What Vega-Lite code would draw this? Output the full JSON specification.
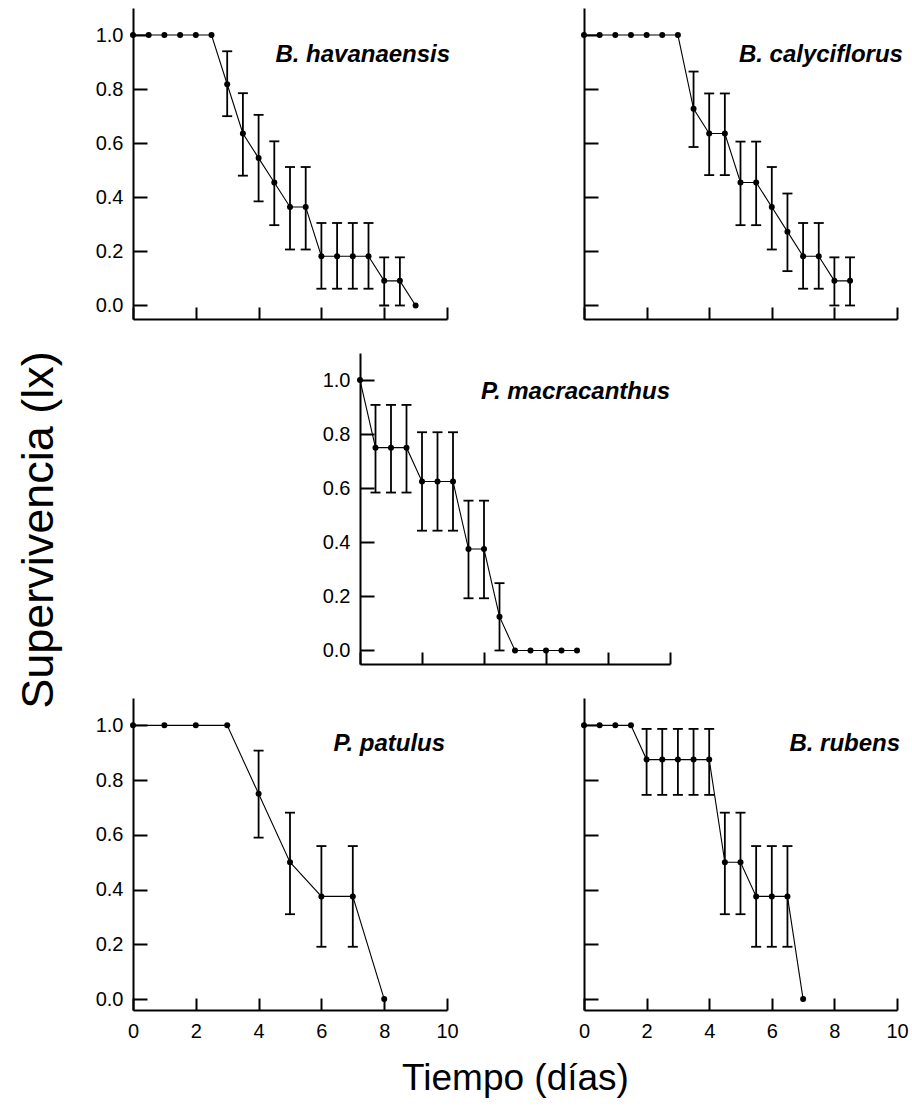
{
  "$schema": "https://vega.github.io/schema/vega-lite/v6.json",
  "padding": {"left": 17, "top": 8, "right": 2, "bottom": 2},
  "background": "white",
  "config": {
    "view": {"stroke": null},
    "font": "Liberation Sans",
    "axis": {"domainColor": "black", "domainWidth": 2, "tickColor": "black", "tickWidth": 2, "labelColor": "black", "labelFont": "Liberation Sans", "labelFontSize": 20, "grid": false, "labelFlush": false, "titleColor": "black", "titleFont": "Liberation Sans", "titleFontWeight": "normal", "titleFontSize": 37},
    "axisX": {"tickSize": -12, "labelPadding": 23},
    "axisY": {"tickSize": -14, "labelPadding": 24}
  },
  "title": {"text": "Supervivencia (lx)", "orient": "left", "anchor": "middle", "fontSize": 45, "fontWeight": "normal", "font": "Liberation Sans", "color": "black", "offset": 33, "dx": 22},
  "datasets": {
    "surv": [
      {"sp": "B. havanaensis", "t": 0, "lx": 1, "lo": null, "hi": null},
      {"sp": "B. havanaensis", "t": 0.5, "lx": 1, "lo": null, "hi": null},
      {"sp": "B. havanaensis", "t": 1, "lx": 1, "lo": null, "hi": null},
      {"sp": "B. havanaensis", "t": 1.5, "lx": 1, "lo": null, "hi": null},
      {"sp": "B. havanaensis", "t": 2, "lx": 1, "lo": null, "hi": null},
      {"sp": "B. havanaensis", "t": 2.5, "lx": 1, "lo": null, "hi": null},
      {"sp": "B. havanaensis", "t": 3, "lx": 0.818, "lo": 0.70, "hi": 0.94},
      {"sp": "B. havanaensis", "t": 3.5, "lx": 0.636, "lo": 0.48, "hi": 0.785},
      {"sp": "B. havanaensis", "t": 4, "lx": 0.545, "lo": 0.385, "hi": 0.705},
      {"sp": "B. havanaensis", "t": 4.5, "lx": 0.455, "lo": 0.297, "hi": 0.607},
      {"sp": "B. havanaensis", "t": 5, "lx": 0.364, "lo": 0.207, "hi": 0.512},
      {"sp": "B. havanaensis", "t": 5.5, "lx": 0.364, "lo": 0.207, "hi": 0.512},
      {"sp": "B. havanaensis", "t": 6, "lx": 0.182, "lo": 0.062, "hi": 0.305},
      {"sp": "B. havanaensis", "t": 6.5, "lx": 0.182, "lo": 0.062, "hi": 0.305},
      {"sp": "B. havanaensis", "t": 7, "lx": 0.182, "lo": 0.062, "hi": 0.305},
      {"sp": "B. havanaensis", "t": 7.5, "lx": 0.182, "lo": 0.062, "hi": 0.305},
      {"sp": "B. havanaensis", "t": 8, "lx": 0.091, "lo": 0.0, "hi": 0.178},
      {"sp": "B. havanaensis", "t": 8.5, "lx": 0.091, "lo": 0.0, "hi": 0.178},
      {"sp": "B. havanaensis", "t": 9, "lx": 0, "lo": null, "hi": null},

      {"sp": "B. calyciflorus", "t": 0, "lx": 1, "lo": null, "hi": null},
      {"sp": "B. calyciflorus", "t": 0.5, "lx": 1, "lo": null, "hi": null},
      {"sp": "B. calyciflorus", "t": 1, "lx": 1, "lo": null, "hi": null},
      {"sp": "B. calyciflorus", "t": 1.5, "lx": 1, "lo": null, "hi": null},
      {"sp": "B. calyciflorus", "t": 2, "lx": 1, "lo": null, "hi": null},
      {"sp": "B. calyciflorus", "t": 2.5, "lx": 1, "lo": null, "hi": null},
      {"sp": "B. calyciflorus", "t": 3, "lx": 1, "lo": null, "hi": null},
      {"sp": "B. calyciflorus", "t": 3.5, "lx": 0.727, "lo": 0.586, "hi": 0.865},
      {"sp": "B. calyciflorus", "t": 4, "lx": 0.636, "lo": 0.482, "hi": 0.784},
      {"sp": "B. calyciflorus", "t": 4.5, "lx": 0.636, "lo": 0.482, "hi": 0.784},
      {"sp": "B. calyciflorus", "t": 5, "lx": 0.455, "lo": 0.297, "hi": 0.606},
      {"sp": "B. calyciflorus", "t": 5.5, "lx": 0.455, "lo": 0.297, "hi": 0.606},
      {"sp": "B. calyciflorus", "t": 6, "lx": 0.364, "lo": 0.207, "hi": 0.512},
      {"sp": "B. calyciflorus", "t": 6.5, "lx": 0.273, "lo": 0.127, "hi": 0.414},
      {"sp": "B. calyciflorus", "t": 7, "lx": 0.182, "lo": 0.062, "hi": 0.305},
      {"sp": "B. calyciflorus", "t": 7.5, "lx": 0.182, "lo": 0.062, "hi": 0.305},
      {"sp": "B. calyciflorus", "t": 8, "lx": 0.091, "lo": 0.0, "hi": 0.178},
      {"sp": "B. calyciflorus", "t": 8.5, "lx": 0.091, "lo": 0.0, "hi": 0.178},

      {"sp": "P. macracanthus", "t": 0, "lx": 1, "lo": null, "hi": null},
      {"sp": "P. macracanthus", "t": 0.5, "lx": 0.75, "lo": 0.584, "hi": 0.908},
      {"sp": "P. macracanthus", "t": 1, "lx": 0.75, "lo": 0.584, "hi": 0.908},
      {"sp": "P. macracanthus", "t": 1.5, "lx": 0.75, "lo": 0.584, "hi": 0.908},
      {"sp": "P. macracanthus", "t": 2, "lx": 0.625, "lo": 0.443, "hi": 0.807},
      {"sp": "P. macracanthus", "t": 2.5, "lx": 0.625, "lo": 0.443, "hi": 0.807},
      {"sp": "P. macracanthus", "t": 3, "lx": 0.625, "lo": 0.443, "hi": 0.807},
      {"sp": "P. macracanthus", "t": 3.5, "lx": 0.375, "lo": 0.193, "hi": 0.554},
      {"sp": "P. macracanthus", "t": 4, "lx": 0.375, "lo": 0.193, "hi": 0.554},
      {"sp": "P. macracanthus", "t": 4.5, "lx": 0.125, "lo": 0.0, "hi": 0.249},
      {"sp": "P. macracanthus", "t": 5, "lx": 0, "lo": null, "hi": null},
      {"sp": "P. macracanthus", "t": 5.5, "lx": 0, "lo": null, "hi": null},
      {"sp": "P. macracanthus", "t": 6, "lx": 0, "lo": null, "hi": null},
      {"sp": "P. macracanthus", "t": 6.5, "lx": 0, "lo": null, "hi": null},
      {"sp": "P. macracanthus", "t": 7, "lx": 0, "lo": null, "hi": null},

      {"sp": "P. patulus", "t": 0, "lx": 1, "lo": null, "hi": null},
      {"sp": "P. patulus", "t": 1, "lx": 1, "lo": null, "hi": null},
      {"sp": "P. patulus", "t": 2, "lx": 1, "lo": null, "hi": null},
      {"sp": "P. patulus", "t": 3, "lx": 1, "lo": null, "hi": null},
      {"sp": "P. patulus", "t": 4, "lx": 0.75, "lo": 0.59, "hi": 0.908},
      {"sp": "P. patulus", "t": 5, "lx": 0.5, "lo": 0.31, "hi": 0.681},
      {"sp": "P. patulus", "t": 6, "lx": 0.375, "lo": 0.191, "hi": 0.559},
      {"sp": "P. patulus", "t": 7, "lx": 0.375, "lo": 0.191, "hi": 0.559},
      {"sp": "P. patulus", "t": 8, "lx": 0, "lo": null, "hi": null},

      {"sp": "B. rubens", "t": 0, "lx": 1, "lo": null, "hi": null},
      {"sp": "B. rubens", "t": 0.5, "lx": 1, "lo": null, "hi": null},
      {"sp": "B. rubens", "t": 1, "lx": 1, "lo": null, "hi": null},
      {"sp": "B. rubens", "t": 1.5, "lx": 1, "lo": null, "hi": null},
      {"sp": "B. rubens", "t": 2, "lx": 0.875, "lo": 0.746, "hi": 0.987},
      {"sp": "B. rubens", "t": 2.5, "lx": 0.875, "lo": 0.746, "hi": 0.987},
      {"sp": "B. rubens", "t": 3, "lx": 0.875, "lo": 0.746, "hi": 0.987},
      {"sp": "B. rubens", "t": 3.5, "lx": 0.875, "lo": 0.746, "hi": 0.987},
      {"sp": "B. rubens", "t": 4, "lx": 0.875, "lo": 0.746, "hi": 0.987},
      {"sp": "B. rubens", "t": 4.5, "lx": 0.5, "lo": 0.31, "hi": 0.681},
      {"sp": "B. rubens", "t": 5, "lx": 0.5, "lo": 0.31, "hi": 0.681},
      {"sp": "B. rubens", "t": 5.5, "lx": 0.375, "lo": 0.191, "hi": 0.559},
      {"sp": "B. rubens", "t": 6, "lx": 0.375, "lo": 0.191, "hi": 0.559},
      {"sp": "B. rubens", "t": 6.5, "lx": 0.375, "lo": 0.191, "hi": 0.559},
      {"sp": "B. rubens", "t": 7, "lx": 0, "lo": null, "hi": null}
    ],
    "labels": [
      {"sp": "B. havanaensis"},
      {"sp": "B. calyciflorus"},
      {"sp": "P. macracanthus"},
      {"sp": "P. patulus"},
      {"sp": "B. rubens"}
    ]
  },
  "spacing": 33,
  "vconcat": [
    {
      "bounds": "flush",
      "spacing": 137,
      "hconcat": [
        {
          "width": 314, "height": 311,
          "data": {"name": "surv"},
          "transform": [{"filter": "datum.sp === 'B. havanaensis'"}],
          "layer": [
            {"mark": {"type": "rule", "color": "black", "strokeWidth": 1.8},
             "encoding": {
               "x": {"field": "t", "type": "quantitative", "scale": {"domain": [0, 10], "nice": false, "zero": false}, "axis": {"values": [0, 2, 4, 6, 8, 10], "labels": false, "title": null}},
               "y": {"field": "lo", "type": "quantitative", "scale": {"domain": [-0.05, 1.1], "nice": false, "zero": false}, "axis": {"values": [0, 0.2, 0.4, 0.6, 0.8, 1], "format": ".1f", "title": null}},
               "y2": {"field": "hi"}}},
            {"mark": {"type": "tick", "orient": "horizontal", "size": 10, "thickness": 1.8, "color": "black", "opacity": 1},
             "encoding": {
               "x": {"field": "t", "type": "quantitative", "scale": {"domain": [0, 10], "nice": false, "zero": false}, "axis": {"values": [0, 2, 4, 6, 8, 10], "labels": false, "title": null}},
               "y": {"field": "lo", "type": "quantitative", "scale": {"domain": [-0.05, 1.1], "nice": false, "zero": false}, "axis": {"values": [0, 0.2, 0.4, 0.6, 0.8, 1], "format": ".1f", "title": null}}}},
            {"mark": {"type": "tick", "orient": "horizontal", "size": 10, "thickness": 1.8, "color": "black", "opacity": 1},
             "encoding": {
               "x": {"field": "t", "type": "quantitative", "scale": {"domain": [0, 10], "nice": false, "zero": false}, "axis": {"values": [0, 2, 4, 6, 8, 10], "labels": false, "title": null}},
               "y": {"field": "hi", "type": "quantitative", "scale": {"domain": [-0.05, 1.1], "nice": false, "zero": false}, "axis": {"values": [0, 0.2, 0.4, 0.6, 0.8, 1], "format": ".1f", "title": null}}}},
            {"mark": {"type": "line", "color": "black", "strokeWidth": 1.1},
             "encoding": {
               "x": {"field": "t", "type": "quantitative", "scale": {"domain": [0, 10], "nice": false, "zero": false}, "axis": {"values": [0, 2, 4, 6, 8, 10], "labels": false, "title": null}},
               "y": {"field": "lx", "type": "quantitative", "scale": {"domain": [-0.05, 1.1], "nice": false, "zero": false}, "axis": {"values": [0, 0.2, 0.4, 0.6, 0.8, 1], "format": ".1f", "title": null}}}},
            {"mark": {"type": "point", "filled": true, "color": "black", "size": 36, "opacity": 1},
             "encoding": {
               "x": {"field": "t", "type": "quantitative", "scale": {"domain": [0, 10], "nice": false, "zero": false}, "axis": {"values": [0, 2, 4, 6, 8, 10], "labels": false, "title": null}},
               "y": {"field": "lx", "type": "quantitative", "scale": {"domain": [-0.05, 1.1], "nice": false, "zero": false}, "axis": {"values": [0, 0.2, 0.4, 0.6, 0.8, 1], "format": ".1f", "title": null}}}},
            {"data": {"name": "labels"},
             "transform": [{"filter": "datum.sp === 'B. havanaensis'"}],
             "mark": {"type": "text", "align": "right", "baseline": "alphabetic", "font": "Liberation Sans", "fontStyle": "italic", "fontWeight": "bold", "fontSize": 24, "color": "black"},
             "encoding": {
               "x": {"datum": 10.1, "type": "quantitative", "scale": {"domain": [0, 10], "nice": false, "zero": false}},
               "y": {"datum": 0.9, "type": "quantitative", "scale": {"domain": [-0.05, 1.1], "nice": false, "zero": false}},
               "text": {"field": "sp"}}}
          ]
        },
        {
          "width": 313, "height": 311,
          "data": {"name": "surv"},
          "transform": [{"filter": "datum.sp === 'B. calyciflorus'"}],
          "layer": [
            {"mark": {"type": "rule", "color": "black", "strokeWidth": 1.8},
             "encoding": {
               "x": {"field": "t", "type": "quantitative", "scale": {"domain": [0, 10], "nice": false, "zero": false}, "axis": {"values": [0, 2, 4, 6, 8, 10], "labels": false, "title": null}},
               "y": {"field": "lo", "type": "quantitative", "scale": {"domain": [-0.05, 1.1], "nice": false, "zero": false}, "axis": {"values": [0, 0.2, 0.4, 0.6, 0.8, 1], "labels": false, "title": null}},
               "y2": {"field": "hi"}}},
            {"mark": {"type": "tick", "orient": "horizontal", "size": 10, "thickness": 1.8, "color": "black", "opacity": 1},
             "encoding": {
               "x": {"field": "t", "type": "quantitative", "scale": {"domain": [0, 10], "nice": false, "zero": false}, "axis": {"values": [0, 2, 4, 6, 8, 10], "labels": false, "title": null}},
               "y": {"field": "lo", "type": "quantitative", "scale": {"domain": [-0.05, 1.1], "nice": false, "zero": false}, "axis": {"values": [0, 0.2, 0.4, 0.6, 0.8, 1], "labels": false, "title": null}}}},
            {"mark": {"type": "tick", "orient": "horizontal", "size": 10, "thickness": 1.8, "color": "black", "opacity": 1},
             "encoding": {
               "x": {"field": "t", "type": "quantitative", "scale": {"domain": [0, 10], "nice": false, "zero": false}, "axis": {"values": [0, 2, 4, 6, 8, 10], "labels": false, "title": null}},
               "y": {"field": "hi", "type": "quantitative", "scale": {"domain": [-0.05, 1.1], "nice": false, "zero": false}, "axis": {"values": [0, 0.2, 0.4, 0.6, 0.8, 1], "labels": false, "title": null}}}},
            {"mark": {"type": "line", "color": "black", "strokeWidth": 1.1},
             "encoding": {
               "x": {"field": "t", "type": "quantitative", "scale": {"domain": [0, 10], "nice": false, "zero": false}, "axis": {"values": [0, 2, 4, 6, 8, 10], "labels": false, "title": null}},
               "y": {"field": "lx", "type": "quantitative", "scale": {"domain": [-0.05, 1.1], "nice": false, "zero": false}, "axis": {"values": [0, 0.2, 0.4, 0.6, 0.8, 1], "labels": false, "title": null}}}},
            {"mark": {"type": "point", "filled": true, "color": "black", "size": 36, "opacity": 1},
             "encoding": {
               "x": {"field": "t", "type": "quantitative", "scale": {"domain": [0, 10], "nice": false, "zero": false}, "axis": {"values": [0, 2, 4, 6, 8, 10], "labels": false, "title": null}},
               "y": {"field": "lx", "type": "quantitative", "scale": {"domain": [-0.05, 1.1], "nice": false, "zero": false}, "axis": {"values": [0, 0.2, 0.4, 0.6, 0.8, 1], "labels": false, "title": null}}}},
            {"data": {"name": "labels"},
             "transform": [{"filter": "datum.sp === 'B. calyciflorus'"}],
             "mark": {"type": "text", "align": "right", "baseline": "alphabetic", "font": "Liberation Sans", "fontStyle": "italic", "fontWeight": "bold", "fontSize": 24, "color": "black"},
             "encoding": {
               "x": {"datum": 10.19, "type": "quantitative", "scale": {"domain": [0, 10], "nice": false, "zero": false}},
               "y": {"datum": 0.9, "type": "quantitative", "scale": {"domain": [-0.05, 1.1], "nice": false, "zero": false}},
               "text": {"field": "sp"}}}
          ]
        }
      ]
    },
    {
      "bounds": "flush",
      "spacing": 0,
      "hconcat": [
        {"width": 227, "height": 311, "data": {"values": []}, "mark": "point", "encoding": {}},
        {
          "width": 310, "height": 311,
          "data": {"name": "surv"},
          "transform": [{"filter": "datum.sp === 'P. macracanthus'"}],
          "layer": [
            {"mark": {"type": "rule", "color": "black", "strokeWidth": 1.8},
             "encoding": {
               "x": {"field": "t", "type": "quantitative", "scale": {"domain": [0, 10], "nice": false, "zero": false}, "axis": {"values": [0, 2, 4, 6, 8, 10], "labels": false, "title": null}},
               "y": {"field": "lo", "type": "quantitative", "scale": {"domain": [-0.05, 1.1], "nice": false, "zero": false}, "axis": {"values": [0, 0.2, 0.4, 0.6, 0.8, 1], "format": ".1f", "title": null}},
               "y2": {"field": "hi"}}},
            {"mark": {"type": "tick", "orient": "horizontal", "size": 10, "thickness": 1.8, "color": "black", "opacity": 1},
             "encoding": {
               "x": {"field": "t", "type": "quantitative", "scale": {"domain": [0, 10], "nice": false, "zero": false}, "axis": {"values": [0, 2, 4, 6, 8, 10], "labels": false, "title": null}},
               "y": {"field": "lo", "type": "quantitative", "scale": {"domain": [-0.05, 1.1], "nice": false, "zero": false}, "axis": {"values": [0, 0.2, 0.4, 0.6, 0.8, 1], "format": ".1f", "title": null}}}},
            {"mark": {"type": "tick", "orient": "horizontal", "size": 10, "thickness": 1.8, "color": "black", "opacity": 1},
             "encoding": {
               "x": {"field": "t", "type": "quantitative", "scale": {"domain": [0, 10], "nice": false, "zero": false}, "axis": {"values": [0, 2, 4, 6, 8, 10], "labels": false, "title": null}},
               "y": {"field": "hi", "type": "quantitative", "scale": {"domain": [-0.05, 1.1], "nice": false, "zero": false}, "axis": {"values": [0, 0.2, 0.4, 0.6, 0.8, 1], "format": ".1f", "title": null}}}},
            {"mark": {"type": "line", "color": "black", "strokeWidth": 1.1},
             "encoding": {
               "x": {"field": "t", "type": "quantitative", "scale": {"domain": [0, 10], "nice": false, "zero": false}, "axis": {"values": [0, 2, 4, 6, 8, 10], "labels": false, "title": null}},
               "y": {"field": "lx", "type": "quantitative", "scale": {"domain": [-0.05, 1.1], "nice": false, "zero": false}, "axis": {"values": [0, 0.2, 0.4, 0.6, 0.8, 1], "format": ".1f", "title": null}}}},
            {"mark": {"type": "point", "filled": true, "color": "black", "size": 36, "opacity": 1},
             "encoding": {
               "x": {"field": "t", "type": "quantitative", "scale": {"domain": [0, 10], "nice": false, "zero": false}, "axis": {"values": [0, 2, 4, 6, 8, 10], "labels": false, "title": null}},
               "y": {"field": "lx", "type": "quantitative", "scale": {"domain": [-0.05, 1.1], "nice": false, "zero": false}, "axis": {"values": [0, 0.2, 0.4, 0.6, 0.8, 1], "format": ".1f", "title": null}}}},
            {"data": {"name": "labels"},
             "transform": [{"filter": "datum.sp === 'P. macracanthus'"}],
             "mark": {"type": "text", "align": "right", "baseline": "alphabetic", "font": "Liberation Sans", "fontStyle": "italic", "fontWeight": "bold", "fontSize": 24, "color": "black"},
             "encoding": {
               "x": {"datum": 10.0, "type": "quantitative", "scale": {"domain": [0, 10], "nice": false, "zero": false}},
               "y": {"datum": 0.93, "type": "quantitative", "scale": {"domain": [-0.05, 1.1], "nice": false, "zero": false}},
               "text": {"field": "sp"}}}
          ]
        }
      ]
    },
    {
      "bounds": "flush",
      "spacing": 137,
      "hconcat": [
        {
          "width": 314, "height": 312,
          "data": {"name": "surv"},
          "transform": [{"filter": "datum.sp === 'P. patulus'"}],
          "layer": [
            {"mark": {"type": "rule", "color": "black", "strokeWidth": 1.8},
             "encoding": {
               "x": {"field": "t", "type": "quantitative", "scale": {"domain": [0, 10], "nice": false, "zero": false}, "axis": {"values": [0, 2, 4, 6, 8, 10], "title": "Tiempo (días)", "titleX": 382, "titleY": 79, "titleBaseline": "alphabetic", "titleAlign": "center"}},
               "y": {"field": "lo", "type": "quantitative", "scale": {"domain": [-0.04, 1.1], "nice": false, "zero": false}, "axis": {"values": [0, 0.2, 0.4, 0.6, 0.8, 1], "format": ".1f", "title": null}},
               "y2": {"field": "hi"}}},
            {"mark": {"type": "tick", "orient": "horizontal", "size": 10, "thickness": 1.8, "color": "black", "opacity": 1},
             "encoding": {
               "x": {"field": "t", "type": "quantitative", "scale": {"domain": [0, 10], "nice": false, "zero": false}, "axis": {"values": [0, 2, 4, 6, 8, 10], "title": "Tiempo (días)", "titleX": 382, "titleY": 79, "titleBaseline": "alphabetic", "titleAlign": "center"}},
               "y": {"field": "lo", "type": "quantitative", "scale": {"domain": [-0.04, 1.1], "nice": false, "zero": false}, "axis": {"values": [0, 0.2, 0.4, 0.6, 0.8, 1], "format": ".1f", "title": null}}}},
            {"mark": {"type": "tick", "orient": "horizontal", "size": 10, "thickness": 1.8, "color": "black", "opacity": 1},
             "encoding": {
               "x": {"field": "t", "type": "quantitative", "scale": {"domain": [0, 10], "nice": false, "zero": false}, "axis": {"values": [0, 2, 4, 6, 8, 10], "title": "Tiempo (días)", "titleX": 382, "titleY": 79, "titleBaseline": "alphabetic", "titleAlign": "center"}},
               "y": {"field": "hi", "type": "quantitative", "scale": {"domain": [-0.04, 1.1], "nice": false, "zero": false}, "axis": {"values": [0, 0.2, 0.4, 0.6, 0.8, 1], "format": ".1f", "title": null}}}},
            {"mark": {"type": "line", "color": "black", "strokeWidth": 1.1},
             "encoding": {
               "x": {"field": "t", "type": "quantitative", "scale": {"domain": [0, 10], "nice": false, "zero": false}, "axis": {"values": [0, 2, 4, 6, 8, 10], "title": "Tiempo (días)", "titleX": 382, "titleY": 79, "titleBaseline": "alphabetic", "titleAlign": "center"}},
               "y": {"field": "lx", "type": "quantitative", "scale": {"domain": [-0.04, 1.1], "nice": false, "zero": false}, "axis": {"values": [0, 0.2, 0.4, 0.6, 0.8, 1], "format": ".1f", "title": null}}}},
            {"mark": {"type": "point", "filled": true, "color": "black", "size": 36, "opacity": 1},
             "encoding": {
               "x": {"field": "t", "type": "quantitative", "scale": {"domain": [0, 10], "nice": false, "zero": false}, "axis": {"values": [0, 2, 4, 6, 8, 10], "title": "Tiempo (días)", "titleX": 382, "titleY": 79, "titleBaseline": "alphabetic", "titleAlign": "center"}},
               "y": {"field": "lx", "type": "quantitative", "scale": {"domain": [-0.04, 1.1], "nice": false, "zero": false}, "axis": {"values": [0, 0.2, 0.4, 0.6, 0.8, 1], "format": ".1f", "title": null}}}},
            {"data": {"name": "labels"},
             "transform": [{"filter": "datum.sp === 'P. patulus'"}],
             "mark": {"type": "text", "align": "right", "baseline": "alphabetic", "font": "Liberation Sans", "fontStyle": "italic", "fontWeight": "bold", "fontSize": 24, "color": "black"},
             "encoding": {
               "x": {"datum": 9.94, "type": "quantitative", "scale": {"domain": [0, 10], "nice": false, "zero": false}},
               "y": {"datum": 0.907, "type": "quantitative", "scale": {"domain": [-0.04, 1.1], "nice": false, "zero": false}},
               "text": {"field": "sp"}}}
          ]
        },
        {
          "width": 313, "height": 312,
          "data": {"name": "surv"},
          "transform": [{"filter": "datum.sp === 'B. rubens'"}],
          "layer": [
            {"mark": {"type": "rule", "color": "black", "strokeWidth": 1.8},
             "encoding": {
               "x": {"field": "t", "type": "quantitative", "scale": {"domain": [0, 10], "nice": false, "zero": false}, "axis": {"values": [0, 2, 4, 6, 8, 10], "title": null}},
               "y": {"field": "lo", "type": "quantitative", "scale": {"domain": [-0.04, 1.1], "nice": false, "zero": false}, "axis": {"values": [0, 0.2, 0.4, 0.6, 0.8, 1], "labels": false, "title": null}},
               "y2": {"field": "hi"}}},
            {"mark": {"type": "tick", "orient": "horizontal", "size": 10, "thickness": 1.8, "color": "black", "opacity": 1},
             "encoding": {
               "x": {"field": "t", "type": "quantitative", "scale": {"domain": [0, 10], "nice": false, "zero": false}, "axis": {"values": [0, 2, 4, 6, 8, 10], "title": null}},
               "y": {"field": "lo", "type": "quantitative", "scale": {"domain": [-0.04, 1.1], "nice": false, "zero": false}, "axis": {"values": [0, 0.2, 0.4, 0.6, 0.8, 1], "labels": false, "title": null}}}},
            {"mark": {"type": "tick", "orient": "horizontal", "size": 10, "thickness": 1.8, "color": "black", "opacity": 1},
             "encoding": {
               "x": {"field": "t", "type": "quantitative", "scale": {"domain": [0, 10], "nice": false, "zero": false}, "axis": {"values": [0, 2, 4, 6, 8, 10], "title": null}},
               "y": {"field": "hi", "type": "quantitative", "scale": {"domain": [-0.04, 1.1], "nice": false, "zero": false}, "axis": {"values": [0, 0.2, 0.4, 0.6, 0.8, 1], "labels": false, "title": null}}}},
            {"mark": {"type": "line", "color": "black", "strokeWidth": 1.1},
             "encoding": {
               "x": {"field": "t", "type": "quantitative", "scale": {"domain": [0, 10], "nice": false, "zero": false}, "axis": {"values": [0, 2, 4, 6, 8, 10], "title": null}},
               "y": {"field": "lx", "type": "quantitative", "scale": {"domain": [-0.04, 1.1], "nice": false, "zero": false}, "axis": {"values": [0, 0.2, 0.4, 0.6, 0.8, 1], "labels": false, "title": null}}}},
            {"mark": {"type": "point", "filled": true, "color": "black", "size": 36, "opacity": 1},
             "encoding": {
               "x": {"field": "t", "type": "quantitative", "scale": {"domain": [0, 10], "nice": false, "zero": false}, "axis": {"values": [0, 2, 4, 6, 8, 10], "title": null}},
               "y": {"field": "lx", "type": "quantitative", "scale": {"domain": [-0.04, 1.1], "nice": false, "zero": false}, "axis": {"values": [0, 0.2, 0.4, 0.6, 0.8, 1], "labels": false, "title": null}}}},
            {"data": {"name": "labels"},
             "transform": [{"filter": "datum.sp === 'B. rubens'"}],
             "mark": {"type": "text", "align": "right", "baseline": "alphabetic", "font": "Liberation Sans", "fontStyle": "italic", "fontWeight": "bold", "fontSize": 24, "color": "black"},
             "encoding": {
               "x": {"datum": 10.1, "type": "quantitative", "scale": {"domain": [0, 10], "nice": false, "zero": false}},
               "y": {"datum": 0.907, "type": "quantitative", "scale": {"domain": [-0.04, 1.1], "nice": false, "zero": false}},
               "text": {"field": "sp"}}}
          ]
        }
      ]
    }
  ]
}
